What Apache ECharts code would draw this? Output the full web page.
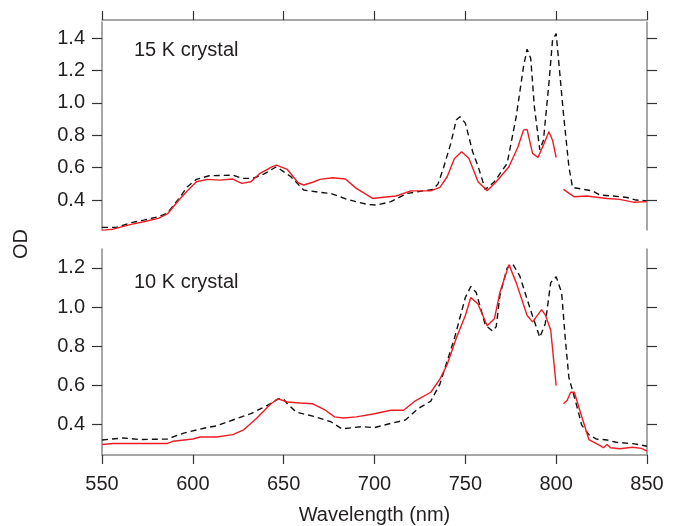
<!DOCTYPE html>
<html>
<head>
<meta charset="utf-8">
<script src="https://cdn.jsdelivr.net/npm/echarts@6/dist/echarts.min.js"></script>
<style>
  html, body { margin: 0; padding: 0; background: #fff; }
  #chart { width: 682px; height: 526px; }
</style>
</head>
<body>
<div id="chart"></div>
<script>
// wavelength ticks (nm) and OD ticks per panel
const xTicks = [550, 600, 650, 700, 750, 800, 850]
const yTicks15 = [0.4, 0.6, 0.8, 1.0, 1.2, 1.4]
const yTicks10 = [0.4, 0.6, 0.8, 1.0, 1.2]

// 15 K crystal, red solid (null = gap in trace)
const wl15Red = [550, 556, 566, 573, 581, 586, 592, 597, 602, 608, 615, 622, 627, 632, 637, 643, 646, 652, 658, 661, 666, 670, 677, 684, 690, 699, 705, 712, 720, 731, 736, 740, 744, 748, 752, 757, 762, 767, 774, 779, 782, 784, 787, 790, 793, 796, 798, 800, 802, 804, 810, 817, 820, 828, 835, 843, 850]
const od15Red = [0.213, 0.22, 0.25, 0.266, 0.287, 0.314, 0.396, 0.457, 0.513, 0.528, 0.523, 0.53, 0.503, 0.513, 0.565, 0.602, 0.616, 0.589, 0.507, 0.493, 0.51, 0.528, 0.538, 0.53, 0.472, 0.41, 0.417, 0.425, 0.457, 0.457, 0.478, 0.544, 0.657, 0.698, 0.657, 0.513, 0.457, 0.513, 0.606, 0.729, 0.832, 0.837, 0.688, 0.663, 0.74, 0.822, 0.77, 0.663, null, 0.466, 0.42, 0.425, 0.42, 0.41, 0.404, 0.386, 0.39]

// 15 K crystal, black dashed
const wl15Blk = [550, 558, 566, 573, 581, 586, 592, 597, 602, 609, 622, 627, 633, 639, 646, 654, 661, 670, 676, 685, 696, 701, 709, 718, 727, 732, 735, 738, 742, 745, 747, 750, 754, 757, 761, 766, 773, 778, 782, 784, 786, 788, 791, 793, 796, 798, 800, 801, 804, 807, 809, 815, 820, 824, 831, 839, 844, 850]
const od15Blk = [0.231, 0.231, 0.26, 0.276, 0.297, 0.32, 0.404, 0.482, 0.528, 0.55, 0.554, 0.534, 0.534, 0.56, 0.606, 0.544, 0.462, 0.447, 0.441, 0.404, 0.373, 0.369, 0.39, 0.441, 0.457, 0.465, 0.5, 0.6, 0.75, 0.895, 0.915, 0.875, 0.7, 0.608, 0.465, 0.513, 0.626, 0.914, 1.223, 1.332, 1.275, 0.976, 0.709, 0.77, 1.12, 1.388, 1.428, 1.306, 0.935, 0.606, 0.478, 0.466, 0.457, 0.431, 0.425, 0.416, 0.4, 0.395]

// 10 K crystal, red solid
const wl10Red = [550, 556, 571, 586, 589, 600, 604, 613, 622, 628, 635, 643, 647, 652, 659, 666, 673, 678, 683, 690, 700, 709, 716, 722, 731, 736, 740, 745, 750, 753, 757, 762, 766, 769, 774, 778, 784, 787, 792, 794, 797, 800, 802, 804, 806, 808, 810, 813, 818, 824, 826, 828, 830, 835, 842, 847, 850]
const od10Red = [0.297, 0.302, 0.302, 0.302, 0.313, 0.325, 0.335, 0.335, 0.347, 0.372, 0.43, 0.505, 0.53, 0.514, 0.509, 0.505, 0.472, 0.438, 0.432, 0.438, 0.454, 0.472, 0.472, 0.517, 0.564, 0.631, 0.706, 0.84, 0.957, 1.049, 1.016, 0.904, 0.94, 1.074, 1.217, 1.125, 0.957, 0.924, 0.987, 0.96, 0.882, 0.598, null, 0.505, 0.522, 0.564, 0.564, 0.472, 0.322, 0.292, 0.28, 0.297, 0.28, 0.275, 0.283, 0.277, 0.263]

// 10 K crystal, black dashed
const wl10Blk = [550, 562, 571, 586, 595, 606, 613, 622, 632, 641, 647, 650, 652, 657, 666, 676, 682, 693, 700, 709, 717, 724, 731, 736, 744, 750, 753, 756, 761, 765, 767, 769, 773, 776, 780, 786, 791, 794, 797, 800, 803, 805, 807, 809, 812, 814, 818, 822, 828, 833, 843, 850]
const od10Blk = [0.32, 0.33, 0.322, 0.325, 0.355, 0.38, 0.392, 0.422, 0.455, 0.497, 0.53, 0.53, 0.505, 0.462, 0.442, 0.413, 0.377, 0.388, 0.383, 0.405, 0.422, 0.48, 0.519, 0.606, 0.84, 1.049, 1.105, 1.074, 0.907, 0.877, 0.9, 1.058, 1.2, 1.222, 1.158, 0.982, 0.845, 0.915, 1.125, 1.155, 1.074, 0.84, 0.639, 0.573, 0.472, 0.397, 0.347, 0.325, 0.32, 0.308, 0.3, 0.288]

const pairs = (xs, ys) => xs.map((x, i) => [x, ys[i] === null ? '-' : ys[i]])

const font = 'Liberation Sans, Arial, Helvetica, sans-serif'
const textColor = '#231f20'
const axisGray = '#8a8a8a'
const red = '#ec1c24'

const chart = echarts.init(document.getElementById('chart'))

function yAxisDef(grid, pos, min, max, ticks) {
  return {
    type: 'value',
    gridIndex: grid,
    position: pos,
    min: min,
    max: max,
    axisLine: { show: true, lineStyle: { color: axisGray, width: 1.5 } },
    axisTick: {
      show: true,
      length: 10,
      customValues: ticks,
      lineStyle: { color: '#333', width: 1.2 }
    },
    axisLabel: {
      show: pos === 'left',
      customValues: ticks,
      margin: 17,
      fontSize: 20,
      fontFamily: font,
      color: textColor,
      formatter: (v) => v.toFixed(1)
    },
    splitLine: { show: false }
  }
}

const option = {
  animation: false,
  backgroundColor: '#fff',
  grid: [
    { left: 102, top: 22, width: 545, height: 208 },
    { left: 102, top: 249, width: 545, height: 210 }
  ],
  xAxis: [
    {
      type: 'value',
      gridIndex: 0,
      position: 'top',
      offset: 2,
      min: 550,
      max: 850,
      interval: 50,
      axisLine: { show: true, lineStyle: { color: axisGray, width: 1.5 } },
      axisTick: { show: true, length: 9, lineStyle: { color: '#333', width: 1.2 } },
      axisLabel: { show: false },
      splitLine: { show: false }
    },
    {
      type: 'value',
      gridIndex: 1,
      position: 'bottom',
      min: 550,
      max: 850,
      interval: 50,
      axisLine: { show: true, lineStyle: { color: axisGray, width: 1.5 } },
      axisTick: { show: true, length: 9, lineStyle: { color: '#333', width: 1.2 } },
      axisLabel: {
        margin: 19,
        fontSize: 20,
        fontFamily: font,
        color: textColor,
        customValues: xTicks
      },
      splitLine: { show: false },
      name: 'Wavelength (nm)',
      nameLocation: 'middle',
      nameGap: 50,
      nameTextStyle: { fontSize: 20, fontFamily: font, color: textColor }
    }
  ],
  yAxis: [
    yAxisDef(0, 'left', 0.215, 1.5, yTicks15),
    yAxisDef(0, 'right', 0.215, 1.5, yTicks15),
    yAxisDef(1, 'left', 0.243, 1.297, yTicks10),
    yAxisDef(1, 'right', 0.243, 1.297, yTicks10)
  ],
  graphic: [
    {
      type: 'text', x: 134, y: 50,
      style: { text: '15 K crystal', font: '20px ' + font, fill: textColor, verticalAlign: 'middle' }
    },
    {
      type: 'text', x: 134, y: 282,
      style: { text: '10 K crystal', font: '20px ' + font, fill: textColor, verticalAlign: 'middle' }
    },
    {
      type: 'text', x: 21, y: 244, rotation: Math.PI / 2,
      style: { text: 'OD', font: '20px ' + font, fill: textColor, align: 'center', verticalAlign: 'middle' }
    }
  ],
  series: [
    {
      type: 'line', xAxisIndex: 0, yAxisIndex: 0,
      data: pairs(wl15Blk, od15Blk), showSymbol: false,
      lineStyle: { color: '#111', width: 1.4, type: [6, 4] }
    },
    {
      type: 'line', xAxisIndex: 0, yAxisIndex: 0,
      data: pairs(wl15Red, od15Red), showSymbol: false, connectNulls: false,
      lineStyle: { color: red, width: 1.4 }
    },
    {
      type: 'line', xAxisIndex: 1, yAxisIndex: 2,
      data: pairs(wl10Blk, od10Blk), showSymbol: false,
      lineStyle: { color: '#111', width: 1.4, type: [6, 4] }
    },
    {
      type: 'line', xAxisIndex: 1, yAxisIndex: 2,
      data: pairs(wl10Red, od10Red), showSymbol: false, connectNulls: false,
      lineStyle: { color: red, width: 1.4 }
    }
  ]
}

chart.setOption(option)
</script>
</body>
</html>
